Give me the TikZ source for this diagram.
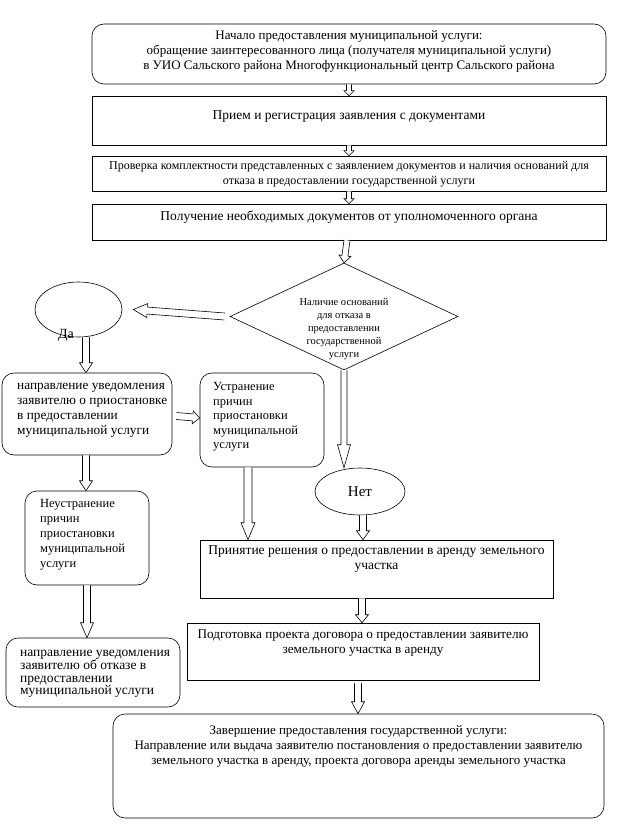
\documentclass[tikz,border=0pt]{standalone}
\usepackage{fontspec}
\setmainfont{Liberation Serif}
\usetikzlibrary{shapes.geometric,calc}
\newcommand\harrow[5]{%
  \coordinate (hs) at #1; \coordinate (ht) at #2;
  \coordinate (hb) at ($(ht)!#5!(hs)$);
  \draw[arr] ($(hs)!#3!90:(ht)$) -- ($(hb)!#3!-90:(hs)$) -- ($(hb)!#4!-90:(hs)$) -- (ht)
    -- ($(hb)!#4!90:(hs)$) -- ($(hb)!#3!90:(hs)$) -- ($(hs)!#3!-90:(ht)$);
}
\begin{document}
\begin{tikzpicture}[x=1pt,y=-1pt,
  box/.style={draw, line width=0.6pt, rectangle, inner sep=0pt},
  rbox/.style={box, rounded corners=12pt},
  txt/.style={font=\fontsize{13}{15}\selectfont, align=center, inner sep=0pt},
  bigtxt/.style={txt, font=\fontsize{13.5}{15}\selectfont},
  ltxt/.style={font=\fontsize{12.5}{15}\selectfont, align=left, inner sep=0pt, anchor=west},
  arr/.style={draw, line width=0.6pt, fill=white, line join=miter}]
\useasboundingbox (0,0) rectangle (635,829);
% boxes
\node[rbox, minimum width=514pt, minimum height=60pt] (n1) at (349,54) {};
\node[box, minimum width=514pt, minimum height=49pt] (n2) at (349,120.5) {};
\node[box, minimum width=514pt, minimum height=35pt] (n3) at (349,173.5) {};
\node[box, minimum width=514pt, minimum height=36pt] (n4) at (349,222) {};
\node[draw, line width=0.6pt, diamond, inner sep=0pt, minimum width=228pt, minimum height=107pt] (dia) at (344,316.5) {};
\node[draw, line width=0.6pt, ellipse, inner sep=0pt, minimum width=87pt, minimum height=55pt] (da) at (78.5,309.5) {};
\node[rbox, minimum width=170pt, minimum height=82pt] (l1) at (87,414) {};
\node[rbox, minimum width=124pt, minimum height=94pt] (u) at (262,420) {};
\node[draw, line width=0.6pt, ellipse, inner sep=0pt, minimum width=90pt, minimum height=47pt, font=\fontsize{15}{17}\selectfont] (net) at (360,491.5) {Нет};
\node[box, minimum width=353pt, minimum height=58pt] (p1) at (376.5,569) {};
\node[box, minimum width=352pt, minimum height=57pt] (p2) at (363,651.5) {};
\node[rbox, minimum width=491pt, minimum height=104pt] (f) at (358.5,766) {};
\node[rbox, minimum width=124pt, minimum height=94pt] (nu) at (87,538) {};
\node[rbox, minimum width=174pt, minimum height=69pt] (o) at (93,672.5) {};
% texts
\node[txt] (t1) at (349,51) {Начало предоставления муниципальной услуги:\\обращение заинтересованного лица (получателя муниципальной услуги)\\в УИО Сальского района Многофункциональный центр Сальского района};
\node[bigtxt] (t2) at (349,117) {Прием и регистрация заявления с документами};
\node[txt, font=\fontsize{12}{15}\selectfont] (t3) at (349,174.5) {Проверка комплектности представленных с заявлением документов и наличия оснований для\\отказа в предоставлении государственной услуги};
\node[bigtxt] (t4) at (349,217) {Получение необходимых документов от уполномоченного органа};
\node[txt, font=\fontsize{10.5}{13}\selectfont] (td) at (344,329.5) {Наличие оснований\\для отказа в\\предоставлении\\государственной\\услуги};
\node[txt, font=\fontsize{14}{16}\selectfont] (tda) at (66,335) {Да};
\node[ltxt, font=\fontsize{13.3}{15}\selectfont] (tl1) at (17,410.5) {направление уведомления\\заявителю о приостановке\\в предоставлении\\муниципальной услуги};
\node[ltxt, font=\fontsize{12.5}{14.5}\selectfont] (tu) at (213,417) {Устранение\\причин\\приостановки\\муниципальной\\услуги};
\node[ltxt] (tnu) at (40,535) {Неустранение\\причин\\приостановки\\муниципальной\\услуги};
\node[ltxt, font=\fontsize{13.5}{12.7}\selectfont] (to) at (20,674) {направление уведомления\\заявителю об отказе в\\предоставлении\\муниципальной услуги};
\node[bigtxt] (tp1) at (376.5,559.5) {Принятие решения о предоставлении в аренду земельного\\участка};
\node[txt, font=\fontsize{13.2}{15}\selectfont] (tp2) at (363,643.5) {Подготовка проекта договора о предоставлении заявителю\\земельного участка в аренду};
\node[txt] (tf) at (358.5,746) {Завершение предоставления государственной услуги:\\Направление или выдача заявителю постановления о предоставлении заявителю\\земельного участка в аренду, проекта договора аренды земельного участка};
% arrow end points
\coordinate (ua) at ($(u.south)+(-14,0)$);
\coordinate (na) at ($(net.south)+(3,0)$);
\coordinate (pa) at ($(p2.south)+(-5,3)$);
\coordinate (pb) at ($(p1.south)+(-14.5,0)$);
% arrows
\harrow{(n1.south)}{(n2.north)}{2.5pt}{5pt}{5pt}
\harrow{(n2.south)}{(n3.north)}{2.5pt}{5pt}{5pt}
\harrow{(n3.south)}{(n4.north)}{2.5pt}{5pt}{5pt}
\harrow{($(n4.south)+(-2,0)$)}{(dia.north)}{3pt}{6pt}{7pt}
\harrow{($(dia.west)+(-5,0)$)}{($(da.east)+(11,0)$)}{3.5pt}{7pt}{14pt}
\harrow{($(da.south)+(7.5,0)$)}{($(l1.north)+(-1,0)$)}{3.5pt}{6.5pt}{10pt}
\harrow{($(l1.east)+(4,2)$)}{($(u.west)+(0,-2)$)}{3.5pt}{6.5pt}{7pt}
\harrow{(dia.south)}{(dia.south |- net.north)}{3pt}{6.5pt}{23pt}
\harrow{(ua)}{(ua |- p1.north)}{4pt}{7pt}{17pt}
\harrow{(na)}{(na |- p1.north)}{3.5pt}{6.5pt}{9pt}
\harrow{(pb)}{(pb |- p2.north)}{3.5pt}{6.5pt}{8pt}
\harrow{(pa)}{(pa |- f.north)}{3.5pt}{6.5pt}{12pt}
\harrow{($(l1.south)+(-1,0)$)}{($(nu.north)+(-1,0)$)}{3.5pt}{6.5pt}{10pt}
\harrow{(nu.south)}{(nu.south |- o.north)}{3.5pt}{6.5pt}{15pt}
\end{tikzpicture}
\end{document}
